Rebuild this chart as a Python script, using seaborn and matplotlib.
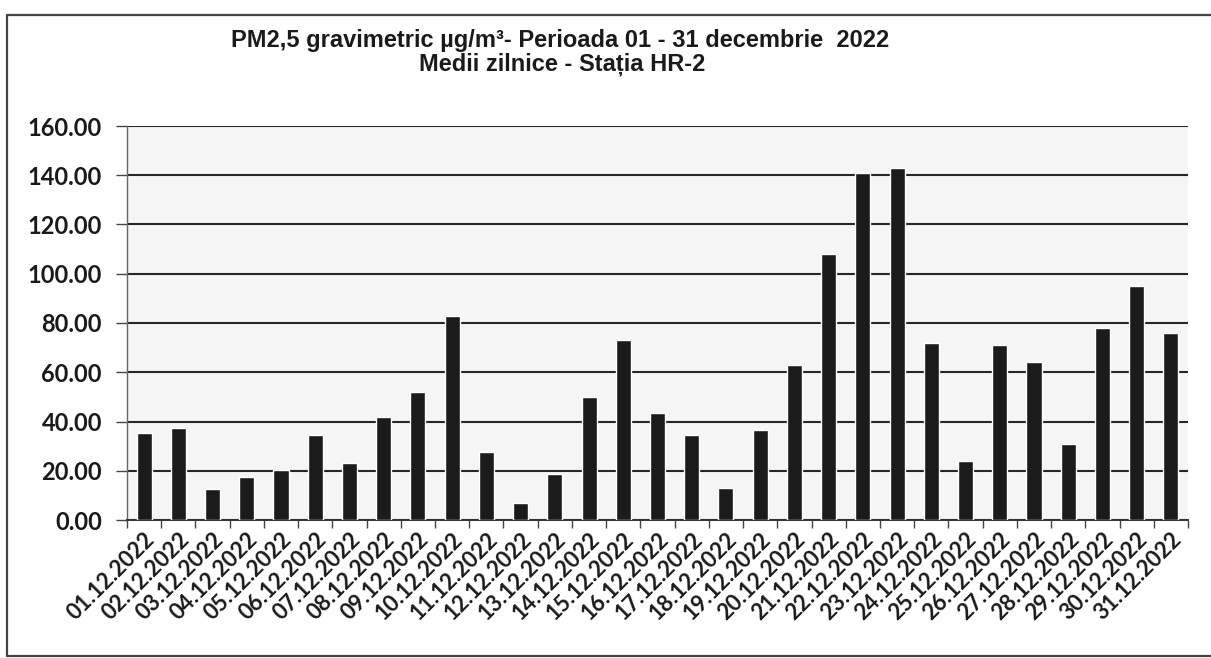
import numpy as np
import pandas as pd
import matplotlib
matplotlib.use("Agg")
import matplotlib.pyplot as plt
from matplotlib.lines import Line2D
import seaborn as sns

# ---- data ----
dates = [f"{d:02d}.12.2022" for d in range(1, 32)]
values = [35.5, 37.5, 12.5, 17.5, 20.5, 34.5, 23.0, 42.0, 52.0, 83.0,
          27.5, 7.0, 18.5, 50.0, 73.0, 43.5, 34.5, 13.0, 36.5, 63.0,
          108.0, 141.0, 143.0, 72.0, 24.0, 71.0, 64.0, 31.0, 78.0, 95.0, 76.0]
y_ticks = [0, 20, 40, 60, 80, 100, 120, 140, 160]
title_line1 = "PM2,5 gravimetric µg/m³- Perioada 01 - 31 decembrie  2022"
title_line2 = "Medii zilnice - Stația HR-2"

df = pd.DataFrame({"date": dates, "value": values})

sns.set_theme(style="white")
plt.rcParams["font.family"] = ["Lato", "DejaVu Sans"]

W, H = 1211, 658
fig = plt.figure(figsize=(W / 100, H / 100), dpi=100)
fig.patch.set_facecolor("white")
ax = fig.add_axes([127 / W, 1 - 520 / H, (1188 - 127) / W, (520 - 126) / H])
ax.set_facecolor("#f5f5f5")

sns.barplot(data=df, x="date", y="value", color="#1b1b1b", width=0.44,
            saturation=1, ax=ax, zorder=3)

ax.set_ylim(0, 160)
ax.set_xlim(-0.5, len(dates) - 0.5)
ax.set_yticks(y_ticks)
ax.set_yticklabels([f"{v:.2f}" for v in y_ticks], fontsize=17, fontweight="bold",
                   color="#1a1a1a")
ax.yaxis.grid(True, color="#262626", linewidth=1.5, zorder=1)
ax.set_axisbelow(True)
ax.tick_params(axis="y", length=8, width=1.0, color="#444444", pad=10, left=True)

ax.set_xticks(range(len(dates)))
ax.set_xticklabels(dates, rotation=45, ha="right", rotation_mode="anchor",
                   fontsize=16, fontweight="bold", color="#1a1a1a")
ax.set_xticks(np.arange(-0.5, len(dates), 1), minor=True)
ax.tick_params(axis="x", which="major", length=0, pad=6)
ax.tick_params(axis="x", which="minor", length=6, width=1.0, color="#444444",
               bottom=True)
ax.set_xlabel("")
ax.set_ylabel("")

for side in ["top", "right"]:
    ax.spines[side].set_visible(False)
ax.spines["left"].set_color("#666666")
ax.spines["left"].set_linewidth(1.0)
ax.spines["bottom"].set_color("#333333")
ax.spines["bottom"].set_linewidth(1.4)

# titles
fig.text(560 / W, 1 - 41 / H, title_line1, ha="center", va="center",
         fontsize=17, fontweight="bold", color="#1a1a1a",
         family=["Liberation Sans Narrow", "Liberation Sans", "DejaVu Sans"])
fig.text(562 / W, 1 - 64 / H, title_line2, ha="center", va="center",
         fontsize=17, fontweight="bold", color="#1a1a1a",
         family=["Liberation Sans Narrow", "Liberation Sans", "DejaVu Sans"])

# outer frame (chart area border)
frame_kw = dict(color="#444444", linewidth=1.6, transform=fig.transFigure)
fig.add_artist(Line2D([7 / W, 7 / W], [1 - 656 / H, 1 - 15 / H], **frame_kw))
fig.add_artist(Line2D([7 / W, 1.0], [1 - 15 / H, 1 - 15 / H], **frame_kw))
fig.add_artist(Line2D([7 / W, 1.0], [1 - 656 / H, 1 - 656 / H], **frame_kw))

fig.savefig("out.png", dpi=100, facecolor="white")
